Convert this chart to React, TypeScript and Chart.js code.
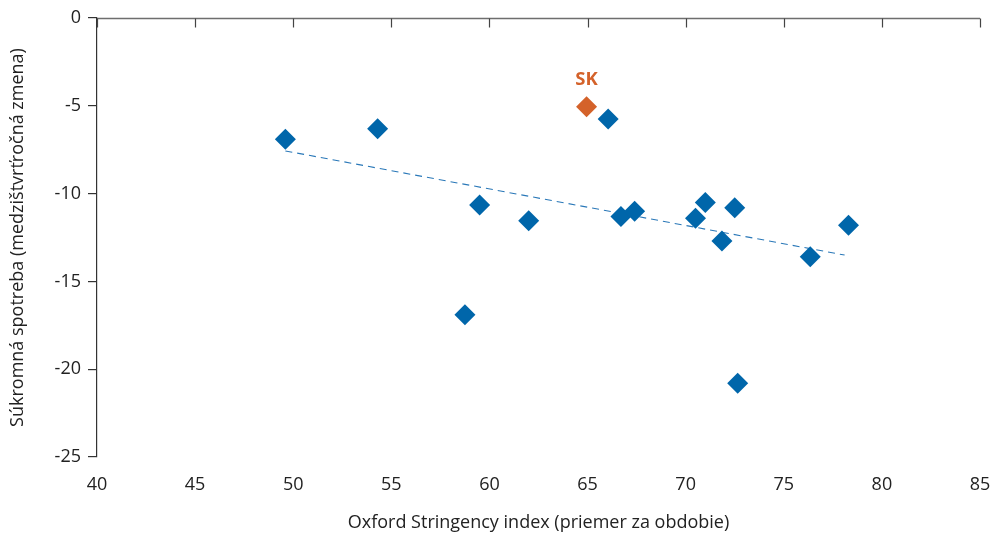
import React, { useEffect, useRef } from 'react';
import { Chart, registerables } from 'chart.js';

Chart.register(...registerables);

// Oxford Stringency index (average over period) vs private consumption (q/q change)
const stringencyX = [49.6, 54.3, 66.05, 59.5, 62.0, 58.75, 66.7, 67.4, 70.5, 71.0, 71.85, 72.5, 72.65, 76.35, 78.3];
const consumptionY = [-6.9, -6.3, -5.75, -10.65, -11.55, -16.9, -11.3, -11.0, -11.4, -10.5, -12.7, -10.8, -20.8, -13.6, -11.8];

const skLabel = 'SK';
const skX = [64.95];
const skY = [-5.05];

const trendX = [49.6, 78.1];
const trendY = [-7.57, -13.5];

const xTickValues = [40, 45, 50, 55, 60, 65, 70, 75, 80, 85];
const yTickValues = [0, -5, -10, -15, -20, -25];

const xTitle = 'Oxford Stringency index (priemer za obdobie)';
const yTitle = 'Súkromná spotreba (medzištvrťročná zmena)';

const BLUE = '#0066aa';
const ORANGE = '#d4622a';
const FONT = "'Open Sans', 'Noto Sans', sans-serif";

const decoPlugin = {
  id: 'deco',
  afterDraw(chart: any) {
    const { ctx, chartArea, scales } = chart;
    const xs = scales.x;
    const ys = scales.y;
    ctx.save();
    // top axis line (y = 0) with inward ticks
    const yTop = Math.round(ys.getPixelForValue(0)) + 0.5;
    ctx.strokeStyle = '#6e6e6e';
    ctx.lineWidth = 1.3;
    ctx.beginPath();
    ctx.moveTo(chartArea.left, yTop);
    ctx.lineTo(chartArea.right, yTop);
    ctx.stroke();
    ctx.strokeStyle = '#444';
    ctx.lineWidth = 1.2;
    for (const v of xTickValues) {
      const px = Math.round(xs.getPixelForValue(v)) + 0.5;
      ctx.beginPath();
      ctx.moveTo(px, yTop);
      ctx.lineTo(px, yTop + 9);
      ctx.stroke();
    }
    // SK label
    const sx = xs.getPixelForValue(skX[0]);
    const sy = ys.getPixelForValue(skY[0]);
    ctx.fillStyle = ORANGE;
    ctx.font = `bold 18.5px ${FONT}`;
    ctx.textAlign = 'center';
    ctx.textBaseline = 'middle';
    ctx.fillText(skLabel, sx, sy - 27);
    ctx.restore();
  },
};

export default function App() {
  const ref = useRef<HTMLCanvasElement | null>(null);

  useEffect(() => {
    document.body.style.margin = '0';
    const canvas = ref.current;
    if (!canvas) return;
    const chart = new Chart(canvas, {
      type: 'scatter',
      data: {
        datasets: [
          {
            label: skLabel,
            data: skX.map((x, i) => ({ x, y: skY[i] })),
            backgroundColor: ORANGE,
            borderColor: ORANGE,
            borderWidth: 0,
            pointStyle: 'rectRot',
            pointRadius: 10.5,
            order: 0,
          },
          {
            label: 'krajiny',
            data: stringencyX.map((x, i) => ({ x, y: consumptionY[i] })),
            backgroundColor: BLUE,
            borderColor: BLUE,
            borderWidth: 0,
            pointStyle: 'rectRot',
            pointRadius: 10.5,
            order: 1,
          },
          {
            type: 'line',
            label: 'trend',
            data: trendX.map((x, i) => ({ x, y: trendY[i] })),
            borderColor: '#2a78b8',
            borderWidth: 1.1,
            borderDash: [7, 5],
            pointRadius: 0,
            fill: false,
            order: 2,
          } as any,
        ],
      },
      plugins: [decoPlugin],
      options: {
        animation: false,
        responsive: false,
        layout: { padding: { top: 18, right: 0, left: 0, bottom: 0 } },
        plugins: {
          legend: { display: false },
          tooltip: { enabled: false },
        },
        scales: {
          x: {
            type: 'linear',
            min: 40,
            max: 85,
            afterBuildTicks: (s: any) => {
              s.ticks = xTickValues.map((v) => ({ value: v }));
            },
            border: { display: false },
            grid: { display: false },
            ticks: {
              color: '#222',
              font: { family: FONT, size: 18 },
              padding: 9,
            },
            title: {
              display: true,
              text: xTitle,
              color: '#222',
              font: { family: FONT, size: 18 },
              padding: { top: 14, bottom: 2 },
            },
            afterFit: (s: any) => {
              s.height = 536 - 457;
              s.paddingRight = 11;
              s.paddingLeft = 0;
            },
          },
          y: {
            type: 'linear',
            min: -25,
            max: 0,
            afterBuildTicks: (s: any) => {
              s.ticks = yTickValues.map((v) => ({ value: v }));
            },
            border: { display: true, color: '#333', width: 1.2 },
            grid: {
              display: true,
              drawOnChartArea: false,
              drawTicks: true,
              tickLength: 9,
              color: '#333',
              lineWidth: 1.2,
            },
            ticks: {
              color: '#222',
              font: { family: FONT, size: 18 },
              padding: 7,
            },
            title: {
              display: true,
              text: yTitle,
              color: '#222',
              font: { family: FONT, size: 18 },
              padding: { top: 7, bottom: 6 },
            },
            afterFit: (s: any) => {
              s.width = 97;
            },
          },
        },
      },
    });
    return () => chart.destroy();
  }, []);

  return <canvas ref={ref} width={991} height={536} style={{ display: 'block' }} />;
}
